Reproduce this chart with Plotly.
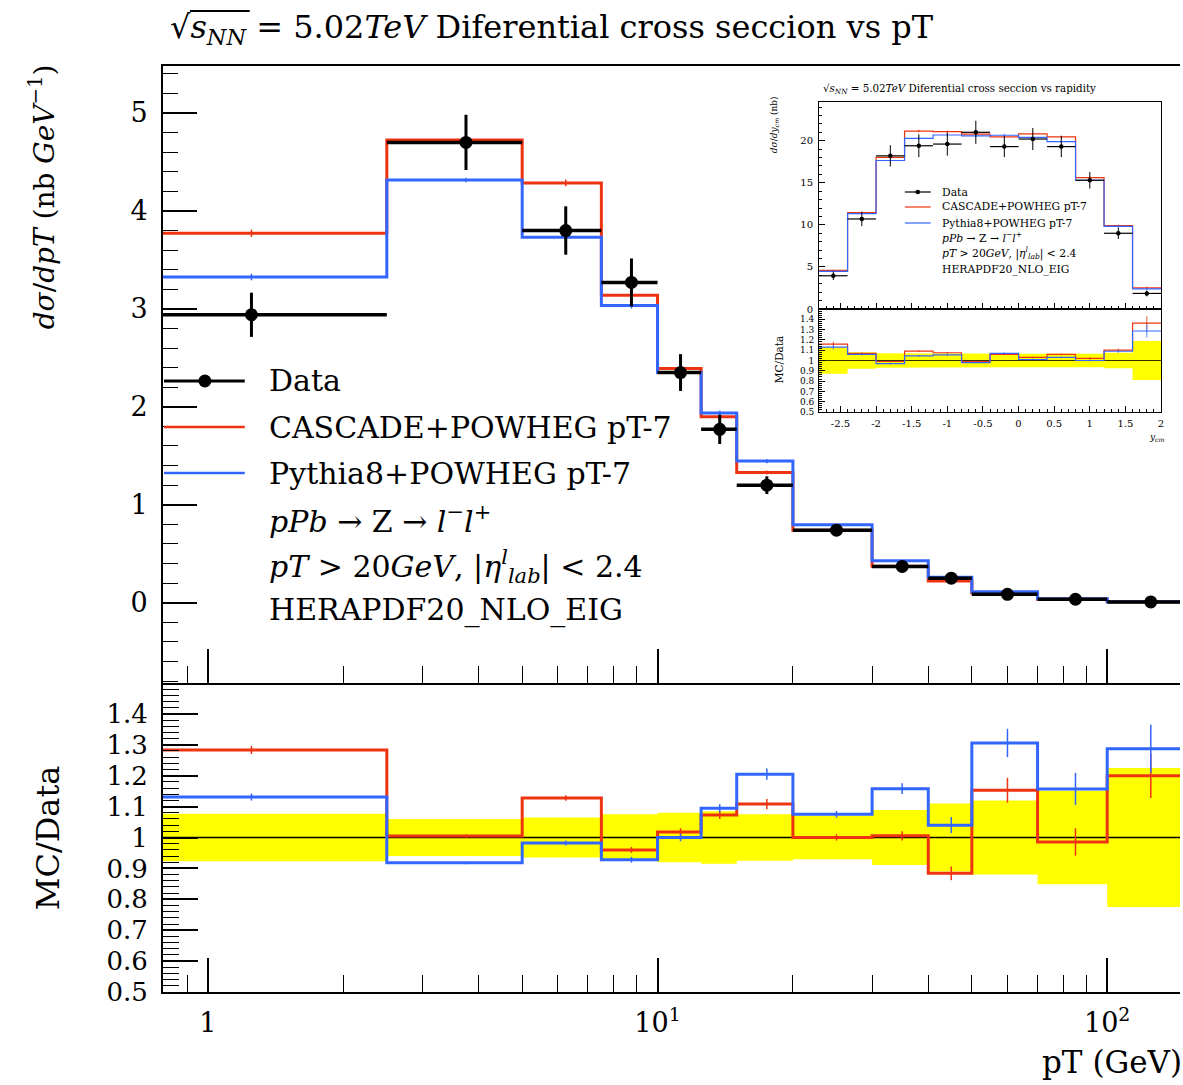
import numpy as np
import plotly.graph_objects as go

# ---------------- main plot: dsigma/dpT ----------------
pt_edges = [0, 2.5, 5, 7.5, 10, 12.5, 15, 20, 30, 40, 50, 70, 100, 150]
data_val = [2.94, 4.70, 3.80, 3.27, 2.35, 1.77, 1.20, 0.74, 0.37, 0.25, 0.085, 0.035, 0.008]
data_err = [0.226, 0.282, 0.247, 0.245, 0.188, 0.150, 0.090, 0.052, 0.033, 0.0275, 0.0102, 0.0053, 0.0018]
cascade_val = [3.772, 4.724, 4.286, 3.139, 2.392, 1.899, 1.330, 0.740, 0.372, 0.221, 0.098, 0.0345, 0.0096]
pythia_val = [3.325, 4.315, 3.732, 3.035, 2.350, 1.938, 1.446, 0.7955, 0.4285, 0.260, 0.111, 0.0405, 0.0103]
mc_rel_err = [0.01, 0.005, 0.008, 0.01, 0.012, 0.012, 0.015, 0.01, 0.015, 0.025, 0.035, 0.045, 0.06]

# ---------------- inset: dsigma/dy_cm ----------------
y_edges = [-2.8, -2.4, -2.0, -1.6, -1.2, -0.8, -0.4, 0.0, 0.4, 0.8, 1.2, 1.6, 2.0]
y_data = [3.95, 10.7, 18.2, 19.4, 19.6, 21.0, 19.3, 20.2, 19.3, 15.3, 9.0, 1.85]
y_data_err = [0.51, 0.86, 1.27, 1.36, 1.37, 1.37, 1.25, 1.31, 1.25, 0.99, 0.68, 0.35]
y_cascade = [4.58, 11.45, 18.02, 21.15, 21.07, 20.79, 20.46, 20.81, 20.46, 15.61, 9.90, 2.52]
y_pythia = [4.46, 11.34, 17.65, 20.27, 20.68, 20.58, 20.65, 20.40, 19.88, 15.30, 9.81, 2.38]
y_mc_rel_err = [0.02, 0.01, 0.008, 0.008, 0.008, 0.008, 0.008, 0.008, 0.008, 0.01, 0.015, 0.05]

RED = "#EE3311"
BLUE = "#3366FF"
YELLOW = "#FFFF00"
FONT = "DejaVu Serif"

W, H = 1183, 1085
ML, MR, MT, MB = 163, 0, 66, 93
PW = W - ML - MR
PH = H - MT - MB
def PX(px):
    return (px - ML) / PW
def PY(py):
    return (H - MB - py) / PH

split = PY(683)
XMIN_LOG = (163 - 208) / 451.0
XMAX_LOG = (1183 - 208) / 451.0
LOG_ZERO = 1e-3  # stand-in for the 0 bin edge on log axis


def plot_edges(edges):
    return [LOG_ZERO if v <= 0 else v for v in edges]


def centers(edges):
    return [(edges[i] + edges[i + 1]) / 2 for i in range(len(edges) - 1)]


def step(edges, vals):
    return list(edges), list(vals) + [vals[-1]]


def hbars(edges, vals):
    xs, ys = [], []
    for i, v in enumerate(vals):
        xs += [edges[i], edges[i + 1], None]
        ys += [v, v, None]
    return xs, ys


def band(edges, rel):
    xu, yu, xl, yl = [], [], [], []
    for i, r in enumerate(rel):
        xu += [edges[i], edges[i + 1]]
        yu += [1 + r, 1 + r]
        xl += [edges[i], edges[i + 1]]
        yl += [1 - r, 1 - r]
    return xu + xl[::-1], yu + yl[::-1]


fig = go.Figure()

pe = plot_edges(pt_edges)
pc = centers(pt_edges)
pt_rel = [e / v for e, v in zip(data_err, data_val)]
casc_ratio = [m / d for m, d in zip(cascade_val, data_val)]
pyth_ratio = [m / d for m, d in zip(pythia_val, data_val)]

# ---- main panel ----
for vals, col in [(cascade_val, RED), (pythia_val, BLUE)]:
    sx, sy = step(pe, vals)
    fig.add_trace(go.Scatter(x=sx, y=sy, mode="lines", line=dict(color=col, width=3, shape="hv"),
                             xaxis="x", yaxis="y", showlegend=False, hoverinfo="skip"))
    fig.add_trace(go.Scatter(x=pc, y=vals, mode="markers", marker=dict(size=1, color=col),
                             error_y=dict(type="data", array=[v * r for v, r in zip(vals, mc_rel_err)],
                                          color=col, thickness=1.5, width=0),
                             xaxis="x", yaxis="y", showlegend=False, hoverinfo="skip"))
hx, hy = hbars(pe, data_val)
fig.add_trace(go.Scatter(x=hx, y=hy, mode="lines", line=dict(color="black", width=3.5),
                         xaxis="x", yaxis="y", showlegend=False, hoverinfo="skip"))
fig.add_trace(go.Scatter(x=pc, y=data_val, mode="markers", marker=dict(size=13, color="black"),
                         error_y=dict(type="data", array=data_err, color="black", thickness=3, width=0),
                         xaxis="x", yaxis="y", showlegend=False))

# ---- ratio panel ----
bx, by = band(pe, pt_rel)
fig.add_trace(go.Scatter(x=bx, y=by, mode="lines", fill="toself", fillcolor=YELLOW,
                         line=dict(width=0, color=YELLOW), xaxis="x2", yaxis="y2",
                         showlegend=False, hoverinfo="skip"))
fig.add_trace(go.Scatter(x=[pe[0], pe[-1]], y=[1, 1], mode="lines", line=dict(color="black", width=1.5),
                         xaxis="x2", yaxis="y2", showlegend=False, hoverinfo="skip"))
for rat, col in [(casc_ratio, RED), (pyth_ratio, BLUE)]:
    sx, sy = step(pe, rat)
    fig.add_trace(go.Scatter(x=sx, y=sy, mode="lines", line=dict(color=col, width=3, shape="hv"),
                             xaxis="x2", yaxis="y2", showlegend=False, hoverinfo="skip"))
    fig.add_trace(go.Scatter(x=pc, y=rat, mode="markers", marker=dict(size=1, color=col),
                             error_y=dict(type="data", array=[r * e for r, e in zip(rat, mc_rel_err)],
                                          color=col, thickness=1.5, width=0),
                             xaxis="x2", yaxis="y2", showlegend=False, hoverinfo="skip"))

# ---- inset main ----
yc = centers(y_edges)
y_rel = [e / v for e, v in zip(y_data_err, y_data)]
yc_ratio = [m / d for m, d in zip(y_cascade, y_data)]
yp_ratio = [m / d for m, d in zip(y_pythia, y_data)]
for vals, col in [(y_cascade, RED), (y_pythia, BLUE)]:
    sx, sy = step(y_edges, vals)
    fig.add_trace(go.Scatter(x=sx, y=sy, mode="lines", line=dict(color=col, width=1.2, shape="hv"),
                             xaxis="x3", yaxis="y3", showlegend=False, hoverinfo="skip"))
    fig.add_trace(go.Scatter(x=yc, y=vals, mode="markers", marker=dict(size=1, color=col),
                             error_y=dict(type="data", array=[v * r for v, r in zip(vals, y_mc_rel_err)],
                                          color=col, thickness=0.8, width=0),
                             xaxis="x3", yaxis="y3", showlegend=False, hoverinfo="skip"))
hx, hy = hbars(y_edges, y_data)
fig.add_trace(go.Scatter(x=hx, y=hy, mode="lines", line=dict(color="black", width=1.2),
                         xaxis="x3", yaxis="y3", showlegend=False, hoverinfo="skip"))
fig.add_trace(go.Scatter(x=yc, y=y_data, mode="markers", marker=dict(size=4.5, color="black"),
                         error_y=dict(type="data", array=y_data_err, color="black", thickness=1, width=0),
                         xaxis="x3", yaxis="y3", showlegend=False))

# ---- inset ratio ----
bx, by = band(y_edges, y_rel)
fig.add_trace(go.Scatter(x=bx, y=by, mode="lines", fill="toself", fillcolor=YELLOW,
                         line=dict(width=0, color=YELLOW), xaxis="x4", yaxis="y4",
                         showlegend=False, hoverinfo="skip"))
fig.add_trace(go.Scatter(x=[y_edges[0], y_edges[-1]], y=[1, 1], mode="lines",
                         line=dict(color="black", width=0.8),
                         xaxis="x4", yaxis="y4", showlegend=False, hoverinfo="skip"))
for rat, col in [(yc_ratio, RED), (yp_ratio, BLUE)]:
    sx, sy = step(y_edges, rat)
    fig.add_trace(go.Scatter(x=sx, y=sy, mode="lines", line=dict(color=col, width=1.2, shape="hv"),
                             xaxis="x4", yaxis="y4", showlegend=False, hoverinfo="skip"))
    fig.add_trace(go.Scatter(x=yc, y=rat, mode="markers", marker=dict(size=1, color=col),
                             error_y=dict(type="data", array=[r * e for r, e in zip(rat, y_mc_rel_err)],
                                          color=col, thickness=0.8, width=0),
                             xaxis="x4", yaxis="y4", showlegend=False, hoverinfo="skip"))

# ---------------- axes ----------------
minor_log = [0.9, 2, 3, 4, 5, 6, 7, 8, 9, 20, 30, 40, 50, 60, 70, 80, 90]
tickfont = dict(family=FONT, size=27, color="black")
common_x = dict(type="log", range=[XMIN_LOG, XMAX_LOG], domain=[0, 1], ticks="inside",
                tickmode="array", tickvals=[1, 10, 100], ticklen=34, tickwidth=1.5, tickcolor="black",
                minor=dict(ticks="inside", tickmode="array", tickvals=minor_log, ticklen=17,
                           tickwidth=1.2, tickcolor="black"),
                showline=True, linecolor="black", linewidth=2, showgrid=False, zeroline=False)

ratio_vals = [0.5, 0.6, 0.7, 0.8, 0.9, 1.0, 1.1, 1.2, 1.3, 1.4]
ratio_text = ["0.5", "0.6", "0.7", "0.8", "0.9", "1", "1.1", "1.2", "1.3", "1.4"]

ix0, ix1 = PX(821), PX(1164)
iy_top, iy_mid, iy_bot = PY(102), PY(309), PY(412)
small = dict(family=FONT, size=10, color="black")

fig.update_layout(
    width=W, height=H, autosize=False,
    margin=dict(l=ML, r=MR, t=MT, b=MB),
    paper_bgcolor="white", plot_bgcolor="rgba(0,0,0,0)",
    font=dict(family=FONT, color="black"),
    xaxis=dict(common_x, anchor="y", showticklabels=False, mirror=True),
    yaxis=dict(domain=[split, 1], range=[-0.82, 5.48], anchor="x", tickmode="array",
               tickvals=[0, 1, 2, 3, 4, 5], ticks="inside", ticklen=34, tickwidth=1.5, tickcolor="black",
               minor=dict(ticks="inside", dtick=0.2, tick0=0, ticklen=15, tickwidth=1.2, tickcolor="black"),
               showline=True, linecolor="black", linewidth=2, showgrid=False, zeroline=False,
               tickfont=tickfont, ticklabelstandoff=8),
    xaxis2=dict(common_x, anchor="y2", ticktext=["1", "10<sup>1</sup>", "10<sup>2</sup>"],
                tickfont=tickfont, ticklabelstandoff=6),
    yaxis2=dict(domain=[0, split], range=[0.5, 1.5], anchor="x2", tickmode="array",
                tickvals=ratio_vals, ticktext=ratio_text, ticks="inside", ticklen=35, tickwidth=1.5,
                tickcolor="black",
                minor=dict(ticks="inside", dtick=0.02, tick0=0.5, ticklen=16, tickwidth=1.2, tickcolor="black"),
                showline=True, linecolor="black", linewidth=2, showgrid=False, zeroline=False,
                tickfont=dict(family=FONT, size=26, color="black"), ticklabelstandoff=8),
    xaxis3=dict(domain=[ix0, ix1], range=[-2.8, 2.0], anchor="y3", showticklabels=False,
                ticks="inside", dtick=0.5, tick0=0, ticklen=6, tickwidth=0.8, tickcolor="black",
                minor=dict(ticks="inside", dtick=0.1, ticklen=3, tickwidth=0.6, tickcolor="black"),
                showline=True, linecolor="black", linewidth=1, mirror=True, showgrid=False, zeroline=False),
    yaxis3=dict(domain=[iy_mid, iy_top], range=[0, 24.6], anchor="x3", ticks="inside", dtick=5,
                ticklen=6, tickwidth=0.8, tickcolor="black",
                minor=dict(ticks="inside", dtick=1, ticklen=3, tickwidth=0.6, tickcolor="black"),
                showline=True, linecolor="black", linewidth=1, mirror=True, showgrid=False, zeroline=False,
                tickfont=small, ticklabelstandoff=3),
    xaxis4=dict(domain=[ix0, ix1], range=[-2.8, 2.0], anchor="y4", tickmode="array",
                tickvals=[-2.5, -2, -1.5, -1, -0.5, 0, 0.5, 1, 1.5, 2],
                ticktext=["-2.5", "-2", "-1.5", "-1", "-0.5", "0", "0.5", "1", "1.5", "2"],
                ticks="inside", ticklen=6, tickwidth=0.8, tickcolor="black",
                minor=dict(ticks="inside", dtick=0.1, ticklen=3, tickwidth=0.6, tickcolor="black"),
                showline=True, linecolor="black", linewidth=1, mirror=True, showgrid=False, zeroline=False,
                tickfont=small, ticklabelstandoff=2),
    yaxis4=dict(domain=[iy_bot, iy_mid], range=[0.5, 1.5], anchor="x4", tickmode="array",
                tickvals=ratio_vals, ticktext=ratio_text, ticks="inside", ticklen=6, tickwidth=0.8,
                tickcolor="black",
                minor=dict(ticks="inside", dtick=0.02, tick0=0.5, ticklen=3, tickwidth=0.6, tickcolor="black"),
                showline=True, linecolor="black", linewidth=1, mirror=True, showgrid=False, zeroline=False,
                tickfont=dict(family=FONT, size=9, color="black"), ticklabelstandoff=2),
)

ann = []
shapes = []
def text(px, py, s, size, xanchor="left", yanchor="middle", angle=0):
    ann.append(dict(x=PX(px), y=PY(py), xref="paper", yref="paper", text=s, showarrow=False,
                    xanchor=xanchor, yanchor=yanchor, textangle=angle,
                    font=dict(family=FONT, size=size, color="black")))

def hline(x0, x1, py, col, w):
    shapes.append(dict(type="line", xref="paper", yref="paper", x0=PX(x0), x1=PX(x1),
                       y0=PY(py), y1=PY(py), line=dict(color=col, width=w)))

def dot(cx, cy, r):
    shapes.append(dict(type="circle", xref="paper", yref="paper", x0=PX(cx - r), x1=PX(cx + r),
                       y0=PY(cy + r), y1=PY(cy - r), fillcolor="black", line=dict(color="black", width=0)))

# title
text(168, 29, "√<i>s</i><sub><i>NN</i></sub> = 5.02<i>TeV</i> Diferential cross seccion vs pT", 32)
hline(190, 250, 11, "black", 2)
# axis titles
text(42, 197, "<i>dσ</i>/<i>dpT</i> (nb <i>GeV</i><sup>−1</sup>)", 28, xanchor="center", angle=-90)
text(48, 838, "MC/Data", 32, xanchor="center", angle=-90)
text(1043, 1062, "pT (GeV)", 31)

# main legend
leg_rows = [381, 427, 473, 519, 566, 610]
leg_text = ["Data", "CASCADE+POWHEG pT-7", "Pythia8+POWHEG pT-7",
            "<i>pPb</i> → Z → <i>l</i><sup>−</sup><i>l</i><sup>+</sup>",
            "<i>pT</i> &gt; 20<i>GeV</i>, |<i>η</i><sup><i>l</i></sup><sub><i>lab</i></sub>| &lt; 2.4",
            "HERAPDF20_NLO_EIG"]
for r, s in zip(leg_rows, leg_text):
    text(267, r, s, 30)
hline(164, 245, leg_rows[0], "black", 3)
dot(205, leg_rows[0], 6.5)
hline(164, 245, leg_rows[1], RED, 2.5)
hline(164, 245, leg_rows[2], BLUE, 2.5)

# inset texts
text(823, 89, "√<i>s</i><sub><i>NN</i></sub> = 5.02<i>TeV</i> Diferential cross seccion vs rapidity", 10.3)
text(777, 125, "<i>dσ</i>/<i>dy<sub>cm</sub></i> (nb)", 9, xanchor="center", angle=-90)
text(781, 360, "MC/Data", 10.5, xanchor="center", angle=-90)
text(1150, 437, "<i>y<sub>cm</sub></i>", 9)
ileg_rows = [192, 207, 223, 238, 253, 269]
for r, s in zip(ileg_rows, leg_text):
    text(942, r, s, 10.8)
hline(907, 933, ileg_rows[0], "black", 1.2)
dot(920, ileg_rows[0], 2.3)
hline(907, 933, ileg_rows[1], RED, 1.2)
hline(907, 933, ileg_rows[2], BLUE, 1.2)

fig.update_layout(annotations=ann, shapes=shapes)
fig.write_html("out.html", config={"displayModeBar": False},
               post_script="document.body.style.margin='0px';document.body.style.overflow='hidden';")
